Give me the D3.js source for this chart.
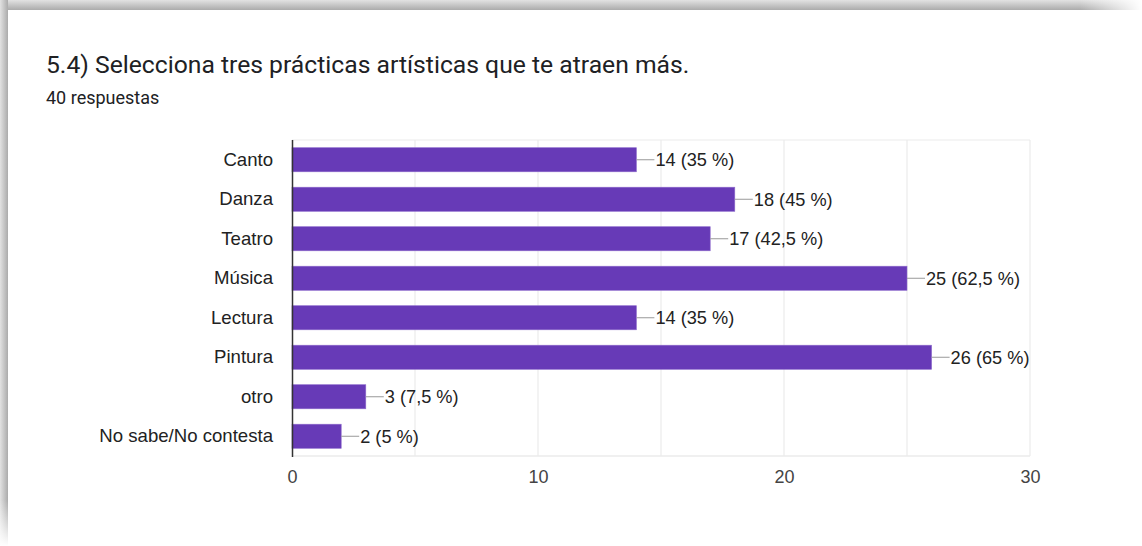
<!DOCTYPE html>
<html><head><meta charset="utf-8">
<script src="https://cdn.jsdelivr.net/npm/d3@7"></script>
<style>html,body{margin:0;padding:0;background:#fff;overflow:hidden}</style>
</head><body>
<svg id="c" width="1142" height="546"></svg>
<script>
const categories = ["Canto","Danza","Teatro","Música","Lectura","Pintura","otro","No sabe/No contesta"];
const values = [14,18,17,25,14,26,3,2];
const labels = ["14 (35 %)","18 (45 %)","17 (42,5 %)","25 (62,5 %)","14 (35 %)","26 (65 %)","3 (7,5 %)","2 (5 %)"];
const tickValues = [0,10,20,30];
const gridValues = [5,10,15,20,25,30];
const title = "5.4) Selecciona tres prácticas artísticas que te atraen más.";
const subtitle = "40 respuestas";

const svg = d3.select("#c");
const defs = svg.append("defs");
const gTop = defs.append("linearGradient").attr("id","gt").attr("x1",0).attr("y1",0).attr("x2",0).attr("y2",1);
gTop.append("stop").attr("offset","0").attr("stop-color","#e2e2e2");
gTop.append("stop").attr("offset","1").attr("stop-color","#ababab");
const gLeft = defs.append("linearGradient").attr("id","gl").attr("x1",0).attr("y1",0).attr("x2",1).attr("y2",0);
gLeft.append("stop").attr("offset","0").attr("stop-color","#e2e2e2");
gLeft.append("stop").attr("offset","1").attr("stop-color","#ababab");
const fadeR = defs.append("linearGradient").attr("id","fr").attr("x1",0).attr("y1",0).attr("x2",1).attr("y2",0);
fadeR.append("stop").attr("offset","0").attr("stop-color","#fff").attr("stop-opacity",0);
fadeR.append("stop").attr("offset","1").attr("stop-color","#fff").attr("stop-opacity",1);
const fadeB = defs.append("linearGradient").attr("id","fb").attr("x1",0).attr("y1",0).attr("x2",0).attr("y2",1);
fadeB.append("stop").attr("offset","0").attr("stop-color","#fff").attr("stop-opacity",0);
fadeB.append("stop").attr("offset","1").attr("stop-color","#fff").attr("stop-opacity",1);

svg.append("rect").attr("x",0).attr("y",0).attr("width",1142).attr("height",10).attr("fill","url(#gt)");
svg.append("rect").attr("x",0).attr("y",0).attr("width",8).attr("height",546).attr("fill","url(#gl)");
svg.append("rect").attr("x",1080).attr("y",0).attr("width",62).attr("height",10).attr("fill","url(#fr)");
svg.append("rect").attr("x",0).attr("y",500).attr("width",8).attr("height",46).attr("fill","url(#fb)");
svg.append("rect").attr("x",8).attr("y",10).attr("width",1134).attr("height",536).attr("fill","#fff");

svg.append("text").attr("x",46).attr("y",73).text(title)
  .attr("font-family","Roboto").attr("font-size",24.7).attr("fill","#202124");
svg.append("text").attr("x",46).attr("y",104).text(subtitle)
  .attr("font-family","Roboto").attr("font-size",18).attr("fill","#202124");

const x = d3.scaleLinear().domain([0,30]).range([292,1030]);
const y = d3.scaleBand().domain(categories).range([140,456]).paddingInner(0.39).paddingOuter(0.195);

const font = "Liberation Sans, Arial, sans-serif";
// grid
svg.append("g").selectAll("line").data(gridValues).join("line")
  .attr("x1",d=>x(d)).attr("x2",d=>x(d)).attr("y1",140).attr("y2",456)
  .attr("stroke","#ebebeb").attr("stroke-width",1.2);
svg.append("line").attr("x1",292).attr("x2",1030).attr("y1",140).attr("y2",140).attr("stroke","#ebebeb").attr("stroke-width",1.2);
svg.append("line").attr("x1",292).attr("x2",1030).attr("y1",456).attr("y2",456).attr("stroke","#ebebeb").attr("stroke-width",1.5);

// bars
svg.append("g").selectAll("rect").data(values).join("rect")
  .attr("x",x(0)).attr("y",(d,i)=>y(categories[i]))
  .attr("width",d=>x(d)-x(0)).attr("height",y.bandwidth())
  .attr("fill","#673ab7").attr("stroke","#8d6bcb").attr("stroke-width",0.6);

// leader lines + labels
svg.append("g").selectAll("line").data(values).join("line")
  .attr("x1",d=>x(d)).attr("x2",d=>x(d)+18)
  .attr("y1",(d,i)=>y(categories[i])+y.bandwidth()/2).attr("y2",(d,i)=>y(categories[i])+y.bandwidth()/2)
  .attr("stroke","#999").attr("stroke-width",1);
svg.append("g").selectAll("text").data(values).join("text")
  .attr("x",d=>x(d)+19).attr("y",(d,i)=>y(categories[i])+y.bandwidth()/2)
  .attr("dy","0.36em").text((d,i)=>labels[i])
  .attr("font-family",font).attr("font-size",18.2).attr("fill","#222");

// y axis
const ya = svg.append("g").attr("transform","translate(292,0)").call(d3.axisLeft(y).tickSize(0).tickPadding(19));
ya.select(".domain").remove();
ya.selectAll("text").attr("font-family",font).attr("font-size",18.6).attr("fill","#222");
svg.append("line").attr("x1",292.5).attr("x2",292.5).attr("y1",140).attr("y2",457).attr("stroke","#333").attr("stroke-width",1.5);

// x axis
const xa = svg.append("g").attr("transform","translate(0,456)").call(d3.axisBottom(x).tickValues(tickValues).tickSize(0).tickPadding(14).tickFormat(d3.format("d")));
xa.select(".domain").remove();
xa.selectAll("text").attr("font-family",font).attr("font-size",18).attr("fill","#444");
</script>
</body></html>
